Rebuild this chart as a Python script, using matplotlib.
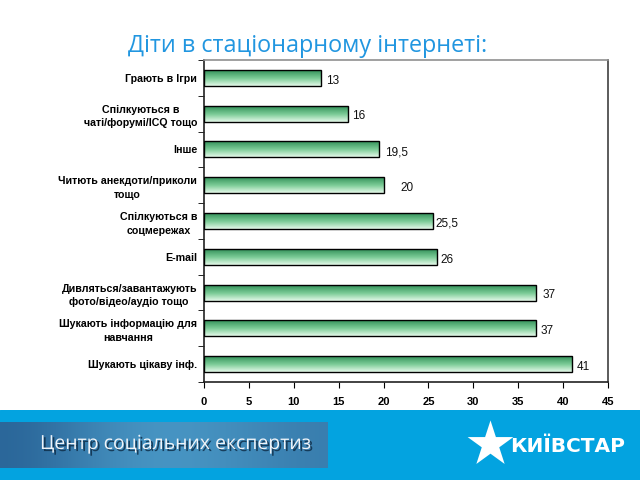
import numpy as np
import matplotlib
matplotlib.use("Agg")
from matplotlib import pyplot as plt
from matplotlib.colors import LinearSegmentedColormap
import matplotlib.patheffects as pe

categories = [
    "Грають в Ігри",
    "Спілкуються в\nчаті/форумі/ICQ тощо",
    "Інше",
    "Читють анекдоти/приколи\nтощо",
    "Спілкуються в\nсоцмережах",
    "E-mail",
    "Дивляться/завантажують\nфото/відео/аудіо тощо",
    "Шукають інформацію для\nнавчання",
    "Шукають цікаву інф.",
]
values = [13, 16, 19.5, 20, 25.5, 26, 37, 37, 41]
value_labels = ["13", "16", "19,5", "20", "25,5", "26", "37", "37", "41"]
x_ticks = [0, 5, 10, 15, 20, 25, 30, 35, 40, 45]

# label offsets in points (how the original drew them)
label_dx = [4, 3, 4, 12, 1.5, 2.5, 4.5, 3, 3]

plt.rcParams["font.family"] = ["Liberation Sans", "DejaVu Sans"]

fig = plt.figure(figsize=(6.4, 4.8), dpi=100)
fig.patch.set_facecolor("white")

ax = fig.add_axes([204 / 640, 1 - 382 / 480, 404 / 640, 322 / 480])
n = len(categories)
ypos = np.arange(n)[::-1]

bars = ax.barh(ypos, values, height=0.45, facecolor="none",
               edgecolor="black", linewidth=1, zorder=3)

cmap = LinearSegmentedColormap.from_list(
    "bar", [(0, "#e6faea"), (0.45, "#7dcd98"), (1, "#2a8a52")])
grad = np.linspace(0, 1, 100).reshape(-1, 1)
for b in bars:
    x0, y0, w, h = b.get_x(), b.get_y(), b.get_width(), b.get_height()
    im = ax.imshow(grad, extent=(x0, x0 + w, y0, y0 + h), origin="lower",
                   aspect="auto", cmap=cmap, zorder=2)
    im.set_clip_path(b)

for y, v, lab, dx in zip(ypos, values, value_labels, label_dx):
    ax.annotate(lab, (v, y), xytext=(dx, -2), textcoords="offset points",
                ha="left", va="center", fontsize=8.5, color="#111111")

ax.set_xlim(0, 45)
ax.set_ylim(-0.5, n - 0.5)
ax.set_xticks(x_ticks)
ax.set_xticklabels([str(t) for t in x_ticks], fontweight="bold", fontsize=8)
ax.tick_params(axis="x", direction="out", length=4, pad=7, color="black")

ax.set_yticks(ypos)
ax.set_yticklabels(categories, fontweight="bold", fontsize=7.7,
                   multialignment="center", linespacing=1.45)
ax.set_yticks(np.arange(-0.5, n, 1), minor=True)
ax.tick_params(axis="y", which="major", length=0, pad=5)
ax.tick_params(axis="y", which="minor", length=4, direction="out", color="black")

ax.spines["top"].set_color("#909090")
ax.spines["right"].set_color("#404040")
ax.spines["left"].set_color("#222222")
ax.spines["bottom"].set_color("#222222")
for s in ax.spines.values():
    s.set_linewidth(1.2)

fig.text(128 / 640, 1 - 46 / 480, "Діти в стаціонарному інтернеті:",
         fontsize=16.8, color="#2196e0", ha="left", va="center",
         family=["Open Sans", "DejaVu Sans"])

# footer band
fa = fig.add_axes([0, 0, 1, 70 / 480])
fa.set_xlim(0, 640)
fa.set_ylim(0, 70)
fa.axis("off")
fa.add_patch(plt.Rectangle((0, 0), 640, 70, color="#03a3e0", zorder=0))
hgrad = np.array([[0.0, 0.4, 0.8, 1.0, 0.9, 0.7, 0.5]])
bcmap = LinearSegmentedColormap.from_list("box", ["#2b679a", "#4896c4"])
fa.imshow(hgrad, extent=(0, 328, 12, 58), aspect="auto", cmap=bcmap,
          zorder=1, interpolation="bicubic")
fa.set_xlim(0, 640)
fa.set_ylim(0, 70)
fa.text(40, 36, "Центр соціальних експертиз", fontsize=14, color="#eef3f8",
        ha="left", va="center", zorder=2, family=["Open Sans", "DejaVu Sans"],
        path_effects=[pe.withSimplePatchShadow(offset=(1.5, -1.5),
                                               shadow_rgbFace="#0c2a44", alpha=0.8)])
fa.scatter([490], [36], marker="*", s=1200, color="white", zorder=2,
           linewidths=0)
fa.text(510, 34, "КИЇВСТАР", fontsize=14.5, fontweight="bold", color="white",
        ha="left", va="center", zorder=2, family=["DejaVu Sans"])

plt.savefig("out.png", dpi=100)
